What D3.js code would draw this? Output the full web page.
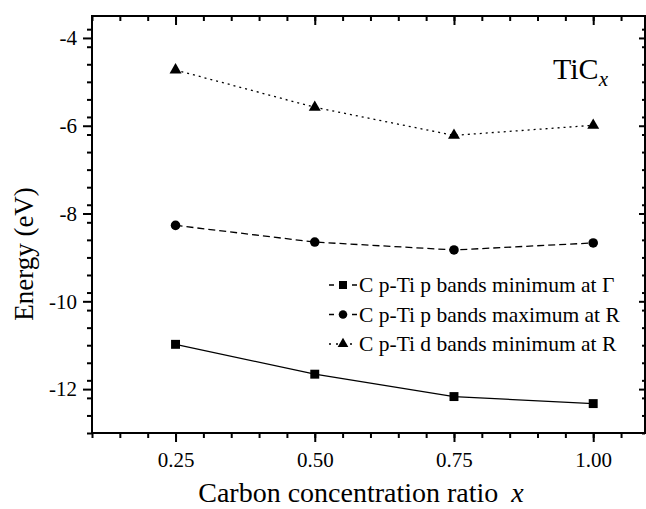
<!DOCTYPE html>
<html>
<head>
<meta charset="utf-8">
<script src="https://cdn.jsdelivr.net/npm/d3@7"></script>
<style>
  body { margin: 0; background: #fff; }
  svg { display: block; }
  text { font-family: "Liberation Serif", "Times New Roman", serif; fill: #000; }
</style>
</head>
<body>
<svg id="chart" width="646" height="509"></svg>
<script>
// ---- data ----
const concentrations = [0.25, 0.50, 0.75, 1.00];
const pBandMinGamma = [-10.98, -11.66, -12.17, -12.33];
const pBandMaxR = [-8.27, -8.65, -8.83, -8.67];
const dBandMinR = [-4.73, -5.58, -6.22, -5.99];
const xTickValues = [0.25, 0.50, 0.75, 1.00];
const xTickLabels = ["0.25", "0.50", "0.75", "1.00"];
const yTickValues = [-4, -6, -8, -10, -12];
const yTickLabels = ["-4", "-6", "-8", "-10", "-12"];
const seriesNames = [
  "C p-Ti p bands minimum at \u0393",
  "C p-Ti p bands maximum at R",
  "C p-Ti d bands minimum at R"
];

const FONT = '"Liberation Serif", "Times New Roman", serif';
const svg = d3.select("#chart");
const L = 92, R = 645, T = 16, B = 433;
const x = d3.scaleLinear().domain([0.1, 1.093]).range([L, R]);
const y = d3.scaleLinear().domain([-13, -3.5]).range([B, T]);

const series = [
  { name: seriesNames[0], values: pBandMinGamma, symbol: d3.symbolSquare, size: 80, dash: null, legDash: "5,18" },
  { name: seriesNames[1], values: pBandMaxR, symbol: d3.symbolCircle, size: 72, dash: "7,4", legDash: "5,18" },
  { name: seriesNames[2], values: dBandMinR, symbol: d3.symbolTriangle, size: 62, dash: "2,4", legDash: "2,5" }
];

// ---- axes ----
const xMinor = d3.range(0.1, 1.0901, 0.05).map(v => +v.toFixed(2));
const yMinor = d3.range(-13, -3.49, 0.4).map(v => +v.toFixed(1));
const fmtX = v => xTickLabels[xTickValues.indexOf(v)] ?? "";
const fmtY = v => yTickLabels[yTickValues.indexOf(v)] ?? "";

function styleAxis(g) {
  g.attr("font-family", FONT).attr("font-size", 21);
  g.select(".domain").remove();
  g.selectAll("line").attr("stroke", "#000").attr("stroke-width", 2);
  g.selectAll("text").style("font-size", "21px").style("font-family", FONT);
}

// bottom (outward)
svg.append("g").attr("transform", `translate(0,${B})`)
  .call(d3.axisBottom(x).tickValues(xMinor).tickSize(5).tickFormat(""))
  .call(styleAxis);
svg.append("g").attr("transform", `translate(0,${B})`)
  .call(d3.axisBottom(x).tickValues(xTickValues).tickSize(9).tickPadding(10).tickFormat(fmtX))
  .call(styleAxis);
// top (inward)
svg.append("g").attr("transform", `translate(0,${T})`)
  .call(d3.axisBottom(x).tickValues(xMinor).tickSize(5).tickFormat(""))
  .call(styleAxis);
svg.append("g").attr("transform", `translate(0,${T})`)
  .call(d3.axisBottom(x).tickValues(xTickValues).tickSize(9).tickFormat(""))
  .call(styleAxis);
// left (outward)
svg.append("g").attr("transform", `translate(${L},0)`)
  .call(d3.axisLeft(y).tickValues(yMinor).tickSize(5).tickFormat(""))
  .call(styleAxis);
svg.append("g").attr("transform", `translate(${L},0)`)
  .call(d3.axisLeft(y).tickValues(yTickValues).tickSize(9).tickPadding(6).tickFormat(fmtY))
  .call(styleAxis);
// right (inward)
svg.append("g").attr("transform", `translate(${R},0)`)
  .call(d3.axisLeft(y).tickValues(yMinor).tickSize(3).tickFormat(""))
  .call(styleAxis);
svg.append("g").attr("transform", `translate(${R},0)`)
  .call(d3.axisLeft(y).tickValues(yTickValues).tickSize(6).tickFormat(""))
  .call(styleAxis);

// frame
svg.append("rect").attr("x", L).attr("y", T).attr("width", R - L).attr("height", B - T)
  .attr("fill", "none").attr("stroke", "#000").attr("stroke-width", 2);

// ---- series ----
const line = d3.line().x((d, i) => x(concentrations[i])).y(d => y(d));
series.forEach(s => {
  svg.append("path").datum(s.values)
    .attr("d", line)
    .attr("fill", "none").attr("stroke", "#000").attr("stroke-width", 1.3)
    .attr("stroke-dasharray", s.dash);
  svg.append("g").selectAll("path").data(s.values).join("path")
    .attr("transform", (d, i) => `translate(${x(concentrations[i])},${y(d)})`)
    .attr("d", d3.symbol().type(s.symbol).size(s.size))
    .attr("fill", "#000");
});

// ---- legend ----
const legend = svg.append("g").attr("transform", "translate(329,285)");
series.forEach((s, i) => {
  const gy = i * 29.5;
  legend.append("line").attr("x1", 0).attr("x2", 28).attr("y1", gy).attr("y2", gy)
    .attr("stroke", "#000").attr("stroke-width", 1.3).attr("stroke-dasharray", s.legDash);
  legend.append("path").attr("transform", `translate(14,${gy})`)
    .attr("d", d3.symbol().type(s.symbol).size(s.size * 0.8)).attr("fill", "#000");
  legend.append("text").attr("x", 30).attr("y", gy + 7).style("font-size", "21.5px").text(s.name);
});

// ---- title ----
const title = svg.append("text").attr("x", 553).attr("y", 79).style("font-size", "30px");
title.append("tspan").text("TiC");
title.append("tspan").attr("dy", 7).style("font-style", "italic").style("font-size", "21px").text("x");

// ---- axis titles ----
const xl = svg.append("text").attr("x", 361).attr("y", 502).attr("text-anchor", "middle").style("font-size", "28px");
xl.append("tspan").text("Carbon concentration ratio ");
xl.append("tspan").attr("dx", 6).style("font-style", "italic").text("x");

svg.append("text").attr("transform", "translate(33,254) rotate(-90)").attr("text-anchor", "middle")
  .style("font-size", "27px").text("Energy (eV)");
</script>
</body>
</html>
